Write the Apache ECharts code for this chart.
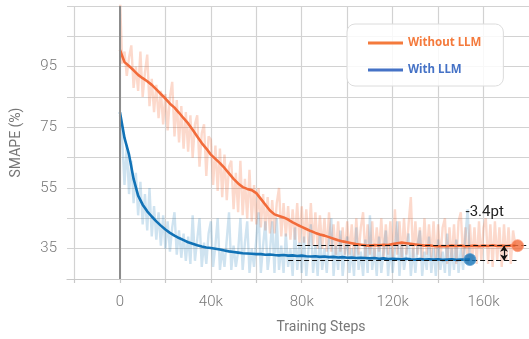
<!DOCTYPE html>
<html>
<head>
<meta charset="utf-8">
<style>
  html, body { margin: 0; padding: 0; background: #fff; }
  #chart { width: 529px; height: 339px; }
</style>
<script src="https://cdn.jsdelivr.net/npm/echarts@6/dist/echarts.min.js"></script>
</head>
<body>
<div id="chart"></div>
<script>
// raw curves are sampled every 1k steps, smoothed curves every 2k steps
const rawStep = 1000
const smoothStep = 2000

const withoutRaw = [
  118, 96, 100, 92, 98, 102, 88, 95, 87, 100,
  85, 93, 99, 82, 91, 80, 89, 78, 87, 76,
  86, 74, 85, 90, 72, 84, 70, 82, 68, 80,
  67, 79, 65, 76, 79, 62, 73, 76, 59, 72,
  71, 56, 69, 54, 68, 52, 66, 51, 62, 64,
  48, 60, 47, 64, 46, 58, 45, 61, 44, 56,
  43, 55, 42, 53, 41, 52, 40, 51, 40, 50,
  55, 39, 50, 39, 49, 38, 48, 38, 50, 37,
  49, 37, 48, 36, 50, 36, 47, 35, 46, 35,
  45, 34, 47, 34, 43, 33, 44, 34, 42, 33,
  44, 33, 43, 32, 45, 33, 42, 47, 32, 43,
  33, 44, 32, 42, 34, 45, 32, 43, 33, 44,
  32, 48, 33, 44, 32, 45, 33, 43, 52, 32,
  44, 33, 42, 31, 45, 33, 43, 32, 44, 31,
  43, 31, 42, 45, 30, 42, 31, 43, 30, 44,
  47, 31, 42, 30, 43, 31, 42, 30, 44, 31,
  42, 45, 30, 43, 29, 44, 31, 42, 29, 43,
  31, 42, 30, 41, 36
]

const withRaw = [
  79, 71, 56, 69, 53, 64, 50, 60, 46, 57,
  43, 53, 41, 55, 39, 49, 38, 47, 36, 46,
  35, 44, 34, 42, 47, 33, 41, 32, 40, 31,
  39, 30, 46, 31, 38, 45, 29, 37, 30, 40,
  44, 29, 36, 45, 28, 35, 29, 38, 47, 28,
  36, 29, 34, 45, 28, 37, 44, 27, 35, 29,
  38, 47, 27, 36, 44, 28, 34, 44, 27, 45,
  28, 36, 27, 40, 29, 35, 26, 42, 28, 37,
  27, 39, 26, 35, 43, 27, 36, 26, 40, 28,
  35, 27, 38, 45, 26, 36, 28, 41, 26, 34,
  39, 27, 35, 26, 42, 28, 34, 26, 38, 27,
  46, 28, 35, 26, 39, 27, 34, 41, 26, 36,
  27, 35, 44, 26, 37, 28, 33, 40, 26, 35,
  27, 36, 41, 26, 34, 28, 39, 27, 35, 26,
  38, 28, 34, 27, 40, 26, 35, 28, 38, 27,
  35, 28, 39, 48, 31
]

const withoutSmooth = [
  100.5, 96.5, 95.2, 93.8, 92.3, 91.2, 90.2, 89.0, 87.5, 86.0,
  84.5, 82.8, 81.5, 79.8, 78.0, 76.3, 74.2, 72.0, 69.8, 68.0,
  66.0, 64.6, 63.2, 61.6, 59.8, 58.0, 56.5, 55.3, 54.7, 54.3,
  53.3, 51.4, 49.5, 47.6, 46.3, 45.8, 45.3, 44.6, 43.7, 42.9,
  42.2, 41.5, 40.8, 40.2, 39.7, 39.3, 38.8, 38.3, 37.8, 37.4,
  37.1, 36.8, 36.5, 36.3, 36.1, 36.0, 36.2, 36.1, 36.3, 36.2,
  36.5, 36.8, 37.0, 36.8, 36.6, 36.4, 36.2, 36.0, 36.1, 35.9,
  35.8, 35.9, 35.8, 36.0, 35.9, 36.0, 35.8, 35.9, 36.0, 35.8,
  36.0, 35.9, 36.1, 35.9, 36.0, 35.9, 36.0, 36.0
]

const withSmooth = [
  80.0, 71.5, 66.0, 58.0, 52.5, 49.5, 47.3, 45.6, 44.0, 42.6,
  41.3, 40.2, 39.3, 38.5, 37.8, 37.1, 36.6, 36.1, 35.7, 35.4,
  35.2, 35.0, 34.7, 34.4, 34.1, 33.9, 33.7, 33.5, 33.4, 33.3,
  33.2, 33.2, 33.0, 33.1, 32.9, 32.8, 32.9, 32.7, 32.8, 32.6,
  32.7, 32.5, 32.4, 32.5, 32.3, 32.4, 32.2, 32.3, 32.1, 32.2,
  32.0, 32.1, 31.9, 32.0, 31.9, 31.8, 31.9, 31.7, 31.8, 31.6,
  31.7, 31.6, 31.5, 31.7, 31.5, 31.4, 31.6, 31.4, 31.5, 31.4,
  31.5, 31.3, 31.4, 31.5, 31.3, 31.4, 31.4, 31.4
]

const xTicks = [-20000, 0, 20000, 40000, 60000, 80000, 100000, 120000, 140000, 160000]
const xLabels = [0, 40000, 80000, 120000, 160000]
const yTicks = [25, 35, 45, 55, 65, 75, 85, 95, 105, 115]
const yLabels = [35, 55, 75, 95]

// final-level annotation: dashed levels, their spans, arrow, label
const gapLevels = [36.0, 31.1]
const gapFrom = [78000, 74000]
const gapTo = [179000, 174500]
const gapArrowX = 169000
const gapText = '-3.4pt'
const gapTextAt = [160500, 47]

const ORANGE = '#f26b3a'
const BLUE = '#1172b6'

const toPairs = (arr, step) => arr.map((v, i) => [i * step, v])
// end marker: last sample of a curve, optionally nudged right along x
const lastPair = (arr, step, nudge) => [(arr.length - 1) * step + nudge, arr[arr.length - 1]]

const chart = echarts.init(document.getElementById('chart'))
const font = 'Roboto, "Noto Sans", sans-serif'

const option = {
  animation: false,
  grid: { left: 67, right: 0, top: 6, bottom: 59 },
  legend: {
    left: 347,
    top: 24,
    orient: 'vertical',
    icon: 'rect',
    itemWidth: 35,
    itemHeight: 3,
    itemGap: 15,
    padding: [13, 22, 10, 21],
    backgroundColor: 'rgba(255,255,255,0.85)',
    borderColor: '#dcdcdc',
    borderWidth: 1,
    borderRadius: 8,
    textStyle: { fontSize: 11.5, fontWeight: 'bold', fontFamily: '"Noto Sans", sans-serif' },
    data: [
      { name: 'Without LLM', itemStyle: { color: '#f47a3c' }, textStyle: { color: '#f47a3c' } },
      { name: 'With LLM', itemStyle: { color: '#4572c6' }, textStyle: { color: '#4572c6' } }
    ]
  },
  xAxis: {
    type: 'value',
    min: -23300,
    max: 180000,
    name: 'Training Steps',
    nameLocation: 'middle',
    nameGap: 41,
    nameTextStyle: { fontSize: 14, color: '#777', fontFamily: font, padding: [0, 0, 0, 46] },
    axisLine: { lineStyle: { color: '#c8c8c8', width: 1.2 } },
    axisTick: { customValues: xTicks, length: 4, lineStyle: { color: '#c8c8c8', width: 1.2 } },
    axisLabel: {
      customValues: xLabels,
      margin: 16,
      fontSize: 15,
      color: '#777',
      fontFamily: font,
      fontWeight: 300,
      formatter: v => (v === 0 ? '0' : v / 1000 + 'k')
    },
    splitLine: { show: true, lineStyle: { color: '#d2d2d2', width: 1.2 } }
  },
  yAxis: {
    type: 'value',
    min: 25,
    max: 115,
    name: 'SMAPE (%)',
    nameLocation: 'middle',
    nameGap: 44,
    nameTextStyle: { fontSize: 14, color: '#777', fontFamily: font },
    axisLine: { show: false },
    axisTick: { show: false, customValues: yTicks },
    axisLabel: { customValues: yLabels, margin: 10, fontSize: 15, color: '#777', fontFamily: font, fontWeight: 300 },
    splitLine: { show: true, lineStyle: { color: '#d2d2d2', width: 1.2 } }
  },
  series: [
    {
      name: 'without-raw',
      type: 'line',
      data: toPairs(withoutRaw, rawStep),
      showSymbol: false,
      silent: true,
      lineStyle: { color: ORANGE, width: 2.4, opacity: 0.26 },
      markLine: {
        silent: true,
        symbol: 'none',
        label: { show: false },
        lineStyle: { color: '#8c8c8c', width: 2, type: 'solid' },
        data: [{ xAxis: 0 }]
      },
      z: 1
    },
    {
      name: 'with-raw',
      type: 'line',
      data: toPairs(withRaw, rawStep),
      showSymbol: false,
      silent: true,
      lineStyle: { color: BLUE, width: 2.4, opacity: 0.2 },
      z: 2
    },
    {
      name: 'Without LLM',
      type: 'line',
      data: toPairs(withoutSmooth, smoothStep),
      showSymbol: false,
      itemStyle: { color: '#f47a3c' },
      lineStyle: { color: ORANGE, width: 2.6 },
      z: 3
    },
    {
      name: 'With LLM',
      type: 'line',
      data: toPairs(withSmooth, smoothStep),
      showSymbol: false,
      itemStyle: { color: '#4572c6' },
      lineStyle: { color: BLUE, width: 2.6 },
      z: 4,
      markLine: {
        silent: true,
        label: { show: false },
        data: [
          [
            { coord: [gapFrom[0], gapLevels[0]], symbol: 'none', lineStyle: { color: '#111', width: 1.2, type: [5, 3] } },
            { coord: [gapTo[0], gapLevels[0]], symbol: 'none' }
          ],
          [
            { coord: [gapFrom[1], gapLevels[1]], symbol: 'none', lineStyle: { color: '#111', width: 1.2, type: [5, 3] } },
            { coord: [gapTo[1], gapLevels[1]], symbol: 'none' }
          ],
          [
            { coord: [gapArrowX, gapLevels[0]], symbol: 'arrow', symbolSize: [6, 6], lineStyle: { color: '#111', width: 1.2, type: 'solid' } },
            { coord: [gapArrowX, gapLevels[1]], symbol: 'arrow', symbolSize: [6, 6] }
          ]
        ]
      },
      markPoint: {
        silent: true,
        symbolSize: 0,
        label: { show: true, formatter: gapText, fontSize: 15, color: '#222', fontFamily: font },
        data: [{ coord: gapTextAt }]
      }
    },
    {
      name: 'ends',
      type: 'scatter',
      silent: true,
      symbolSize: 12,
      z: 5,
      data: [
        { value: lastPair(withoutSmooth, smoothStep, 1000), itemStyle: { color: ORANGE, borderColor: 'rgba(255,160,130,0.9)', borderWidth: 1 } },
        { value: lastPair(withSmooth, smoothStep, 0), itemStyle: { color: BLUE, borderColor: 'rgba(90,160,210,0.9)', borderWidth: 1 } }
      ]
    }
  ]
}

chart.setOption(option)
</script>
</body>
</html>
